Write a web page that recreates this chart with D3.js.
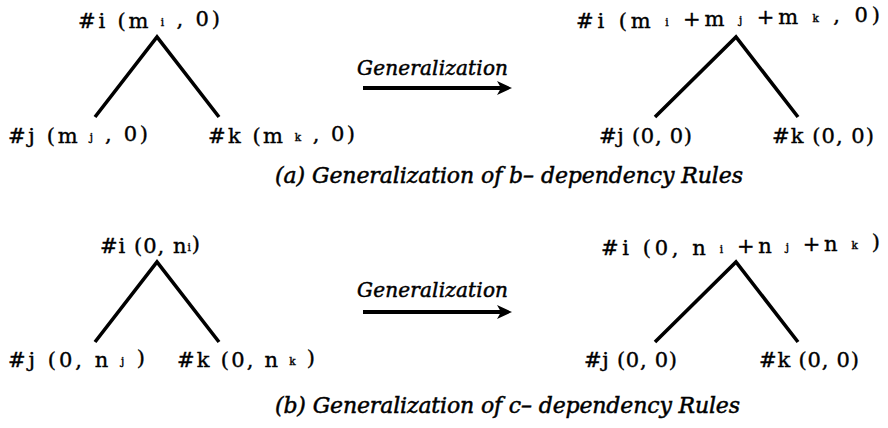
<!DOCTYPE html>
<html>
<head>
<meta charset="utf-8">
<script src="https://cdn.jsdelivr.net/npm/d3@7"></script>
<style>
  html, body { margin: 0; padding: 0; background: #fff; }
  svg { display: block; }
  text { font-family: "DejaVu Serif", "Liberation Serif", "Noto Serif", "Times New Roman", serif; }
</style>
</head>
<body>
<svg id="chart" width="888" height="428"></svg>
<script>
// ---- content (one entry per panel: a, b) ----
const panels = ["a", "b"];
const captions = ["(a) Generalization of b\u2013 dependency Rules", "(b) Generalization of c\u2013 dependency Rules"];
const arrowLabels = ["Generalization", "Generalization"];
const beforeRoot = ["#i (m _i , 0)", "#i (0, n_i)"];
const beforeLeftLeaf = ["#j (m _j , 0)", "#j (0, n _j )"];
const beforeRightLeaf = ["#k (m _k , 0)", "#k (0, n _k )"];
const afterRoot = ["#i (m _i +m _j +m _k , 0)", "#i (0, n _i +n _j +n _k )"];
const afterLeftLeaf = ["#j (0, 0)", "#j (0, 0)"];
const afterRightLeaf = ["#k (0, 0)", "#k (0, 0)"];

// ---- layout ----
const svg = d3.select("#chart");
const panelY = d3.scaleLinear().domain([0, 1]).range([0, 225]);      // panel index -> vertical offset
const levelY = d3.scaleLinear().domain([0, 1]).range([37, 117]);     // tree level -> y (root, leaves)
const treeX = {
  before: d3.scaleLinear().domain([-1, 0, 1]).range([95, 157, 219]),
  after:  d3.scaleLinear().domain([-1, 0, 1]).range([655, 736, 798])
};
// text boxes: [x0, x1, baseline] in panel coordinates
const boxes = {
  a: {
    bRoot: [78, 220, 28], bL: [8, 148, 143], bR: [208, 355, 143],
    aRoot: [576, 880, 28], aL: [599, 692, 143], aR: [772, 874, 143],
    gen: [357, 508, 75], cap: [275, 743, 183]
  },
  b: {
    bRoot: [100, 200, 28], bL: [8, 145, 142], bR: [177, 315, 142],
    aRoot: [601, 880, 30], aL: [584, 677, 142], aR: [759, 859, 142],
    gen: [357, 508, 72], cap: [275, 740, 188]
  }
};
const arrowX = [363, 512];
const arrowYRel = [88, 87];

function addLabel(g, str, box, opts) {
  const t = g.append("text")
    .attr("x", box[0]).attr("y", box[2])
    .style("font-size", opts.size + "px")
    .style("font-style", opts.italic ? "italic" : "normal")
    .attr("fill", "#000")
    .attr("stroke", "#000")
    .attr("stroke-width", opts.stroke);
  // parse "_x" as a small subscript glyph
  const parts = str.split(/(_\w)/).filter(s => s.length);
  let n = 0;
  parts.forEach(p => {
    if (p[0] === "_") {
      t.append("tspan").style("font-size", (opts.size * 0.5) + "px").attr("dy", -2).text(p.slice(1));
      t.append("tspan").attr("dy", 2).text("");
      n += 1;
    } else {
      t.append("tspan").text(p);
      n += p.length;
    }
  });
  const natural = t.node().getComputedTextLength();
  const target = box[1] - box[0];
  if (n > 1) t.style("letter-spacing", ((target - natural) / (n - 1)) + "px");
  return t;
}

const mainFont = { size: 21, italic: false, stroke: 0.4 };
const genFont = { size: 20, italic: true, stroke: 0.5 };
const capFont = { size: 22, italic: true, stroke: 0.5 };

panels.forEach((p, i) => {
  const g = svg.append("g").attr("transform", `translate(0,${panelY(i)})`);
  const bx = boxes[p];

  // tree edges (root -> two children)
  ["before", "after"].forEach(side => {
    const sx = treeX[side];
    g.append("path")
      .attr("d", d3.line()([[sx(-1), levelY(1)], [sx(0), levelY(0)], [sx(1), levelY(1)]]))
      .attr("fill", "none").attr("stroke", "#000").attr("stroke-width", 3.6)
      .attr("stroke-linejoin", "miter");
  });

  // node labels
  addLabel(g, beforeRoot[i], bx.bRoot, mainFont);
  addLabel(g, beforeLeftLeaf[i], bx.bL, mainFont);
  addLabel(g, beforeRightLeaf[i], bx.bR, mainFont);
  addLabel(g, afterRoot[i], bx.aRoot, mainFont);
  addLabel(g, afterLeftLeaf[i], bx.aL, mainFont);
  addLabel(g, afterRightLeaf[i], bx.aR, mainFont);

  // arrow
  const ay = arrowYRel[i];
  g.append("line")
    .attr("x1", arrowX[0]).attr("y1", ay)
    .attr("x2", arrowX[1] - 10).attr("y2", ay)
    .attr("stroke", "#000").attr("stroke-width", 4);
  g.append("path")
    .attr("d", `M${arrowX[1]},${ay} L${arrowX[1] - 15},${ay - 7} L${arrowX[1] - 11},${ay} L${arrowX[1] - 15},${ay + 7} Z`)
    .attr("fill", "#000");
  addLabel(g, arrowLabels[i], bx.gen, genFont);

  // caption
  addLabel(g, captions[i], bx.cap, capFont);
});
</script>
</body>
</html>
